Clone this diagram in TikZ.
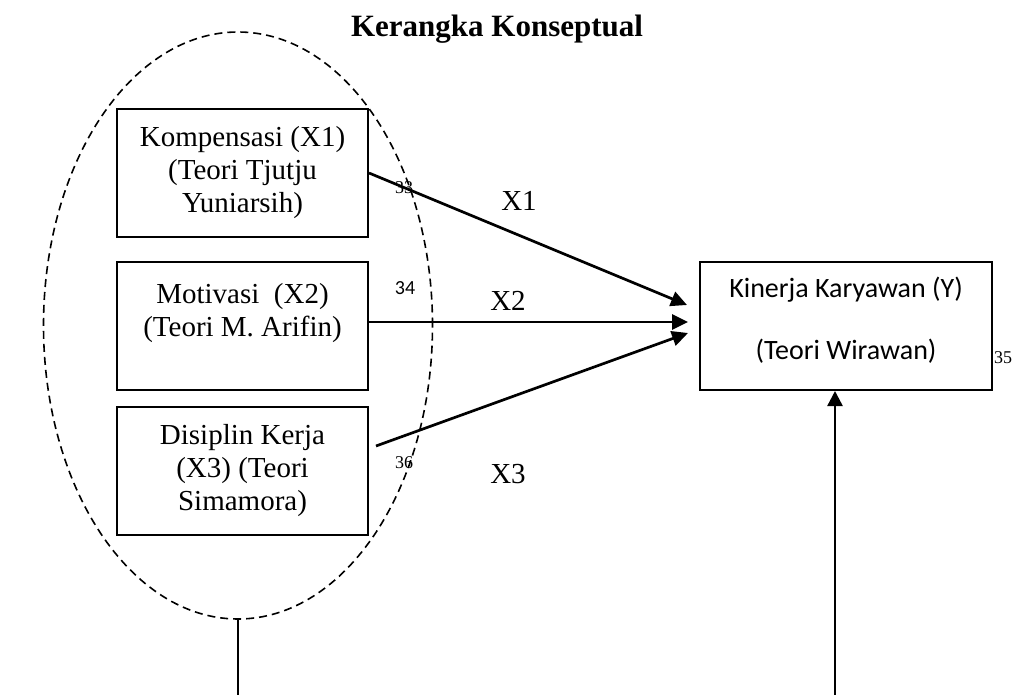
\documentclass[tikz,border=0pt]{standalone}
\usepackage{fontspec}
\setmainfont{Liberation Serif}
\newfontfamily\calibri{Carlito}
\usetikzlibrary{shapes.geometric,arrows.meta}

\begin{document}
\begin{tikzpicture}[x=1pt,y=-1pt]
	\tikzstyle{kotak}=[draw, line width=2pt, minimum width=251pt, minimum height=128pt, align=center, inner sep=0pt, font=\fontsize{29}{33}\selectfont]
	\tikzstyle{panah}=[line width=2.7pt, -{Triangle[length=16pt,width=15pt]}]
	\tikzstyle{nomor}=[inner sep=0pt, font=\fontsize{18}{20}\selectfont]
	\tikzstyle{teks}=[inner sep=0pt, anchor=base, font=\fontsize{29}{33}\selectfont]
	\useasboundingbox (0,0) rectangle (1019,695);
	\node[anchor=base, font=\fontsize{31}{36}\selectfont\bfseries] (judul) at (497,37) {Kerangka Konseptual};
	\node[ellipse, draw, line width=1.6pt, dash pattern=on 8pt off 5pt, minimum width=389pt, minimum height=587pt, inner sep=0pt, outer sep=0pt] (kelompok) at (238,325.5) {};
	\node[kotak] (komp) at (242.5,173) {Kompensasi (X1)\\(Teori Tjutju\\Yuniarsih)};
	\node[kotak] (motiv) at (242.5,326) {Motivasi~~(X2)\\(Teori M. Arifin)\\\mbox{}};
	\node[kotak] (disip) at (242.5,471) {Disiplin Kerja\\(X3) (Teori\\Simamora)};
	\node[kotak, minimum width=292pt, text depth=15pt, font=\calibri\fontsize{28}{62}\selectfont] (kinerja) at (846,326) {Kinerja Karyawan (Y)\\(Teori Wirawan)};
	% ujung panah
	\coordinate (t1) at (687,305);
	\coordinate (t3) at (688,333);
	\coordinate (bawah1) at (238,695);
	\coordinate (bawah2) at (835,695);
	\draw[panah] (komp.east) -- (t1);
	\draw[panah] ([yshift=4pt]motiv.east) -- ([xshift=-11pt,yshift=4pt]kinerja.west);
	\draw[panah] ([shift={(7pt,25pt)}]disip.east) -- (t3);
	\draw[line width=2pt] (kelompok.south) -- (bawah1);
	\draw[line width=2.4pt, -{Triangle[length=15pt,width=15pt]}] (bawah2) -- ([xshift=-11pt]kinerja.south);
	\node[teks] (lx1) at (519,210) {X1};
	\node[teks] (lx2) at (508,310) {X2};
	\node[teks] (lx3) at (508,483) {X3};
	\node[nomor] (n33) at (404,188) {33};
	\node[nomor, font=\calibri\fontsize{20}{22}\selectfont] (n34) at (405,288) {34};
	\node[nomor] (n35) at (1003,358) {35};
	\node[nomor] (n36) at (404,463) {36};
\end{tikzpicture}
\end{document}
